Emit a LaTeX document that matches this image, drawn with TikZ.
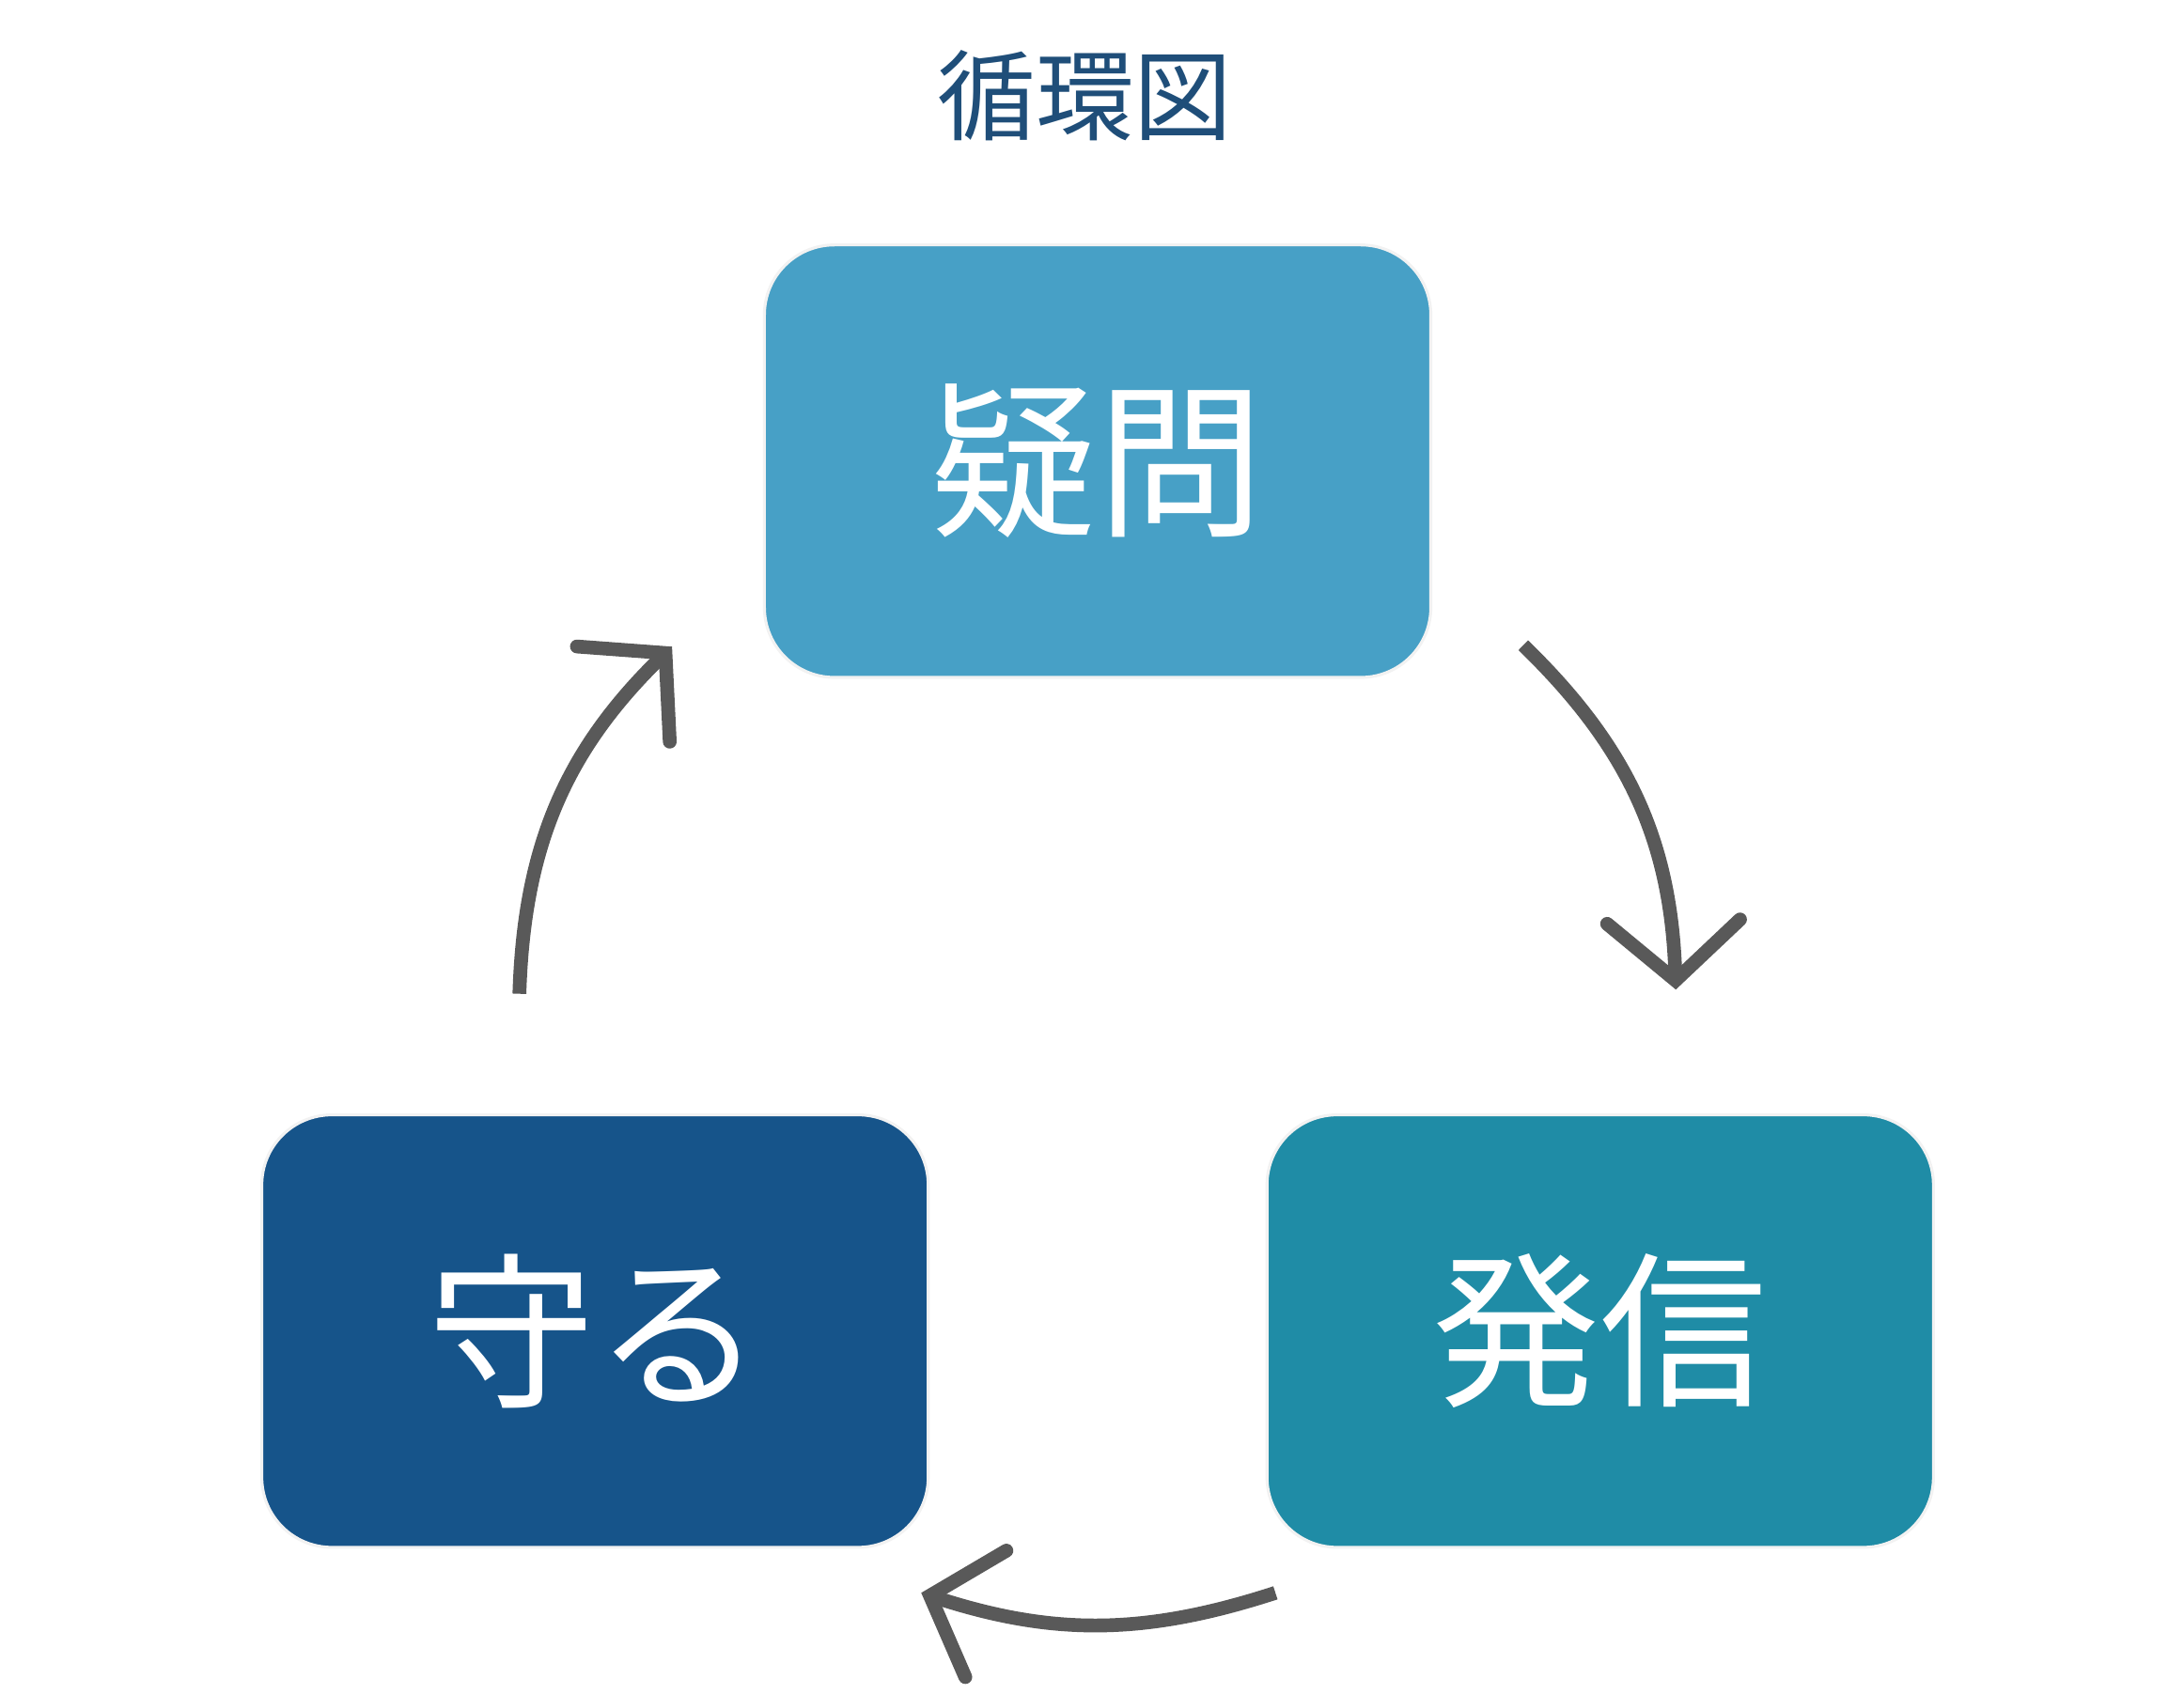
\documentclass[tikz,border=0pt]{standalone}
\usepackage{fontspec}
\newfontfamily\cjk{Noto Sans CJK JP}
\usetikzlibrary{arrows.meta}
\definecolor{qblue}{HTML}{47A0C6}
\definecolor{mblue}{HTML}{16548A}
\definecolor{tblue}{HTML}{1F8CA6}
\definecolor{titleblue}{HTML}{1F4E79}
\definecolor{arrgray}{HTML}{595959}
\tikzset{
  box/.style={draw=white!90!gray, line width=0.6pt, rounded corners=0.5cm,
    minimum width=4.76cm, minimum height=3.09cm, text=white,
    font=\cjk\fontsize{34}{40}\selectfont},
  cyc/.style={draw=arrgray, line width=2.8pt,
    -{Straight Barb[length=0.42cm, width=0.95cm, line cap=round]}}
}
\begin{document}
\begin{tikzpicture}
\useasboundingbox (0,0) rectangle (15.6,12.1);

\node [text=titleblue, font=\cjk\fontsize{20}{24}\selectfont] (title) at (7.75,11.42) {循環図};

\node [box, fill=qblue] (gimon) at (7.84,8.805) {疑問};
\node [box, fill=tblue] (hasshin) at (11.43,2.59) {発信};
\node [box, fill=mblue] (mamoru) at (4.25,2.59) {守る};

\coordinate (a1s) at (10.88,7.49);
\coordinate (a1e) at (11.97,5.03);
\coordinate (a2s) at (9.11,0.72);
\coordinate (a2e) at (6.58,0.72);
\coordinate (a3s) at (3.71,5.00);
\coordinate (a3e) at (4.80,7.48);

\draw [cyc] (a1s) to [bend left=22] (a1e);
\draw [cyc] (a2s) to [bend left=18] (a2e);
\draw [cyc] (a3s) to [bend left=22] (a3e);

\end{tikzpicture}
\end{document}
